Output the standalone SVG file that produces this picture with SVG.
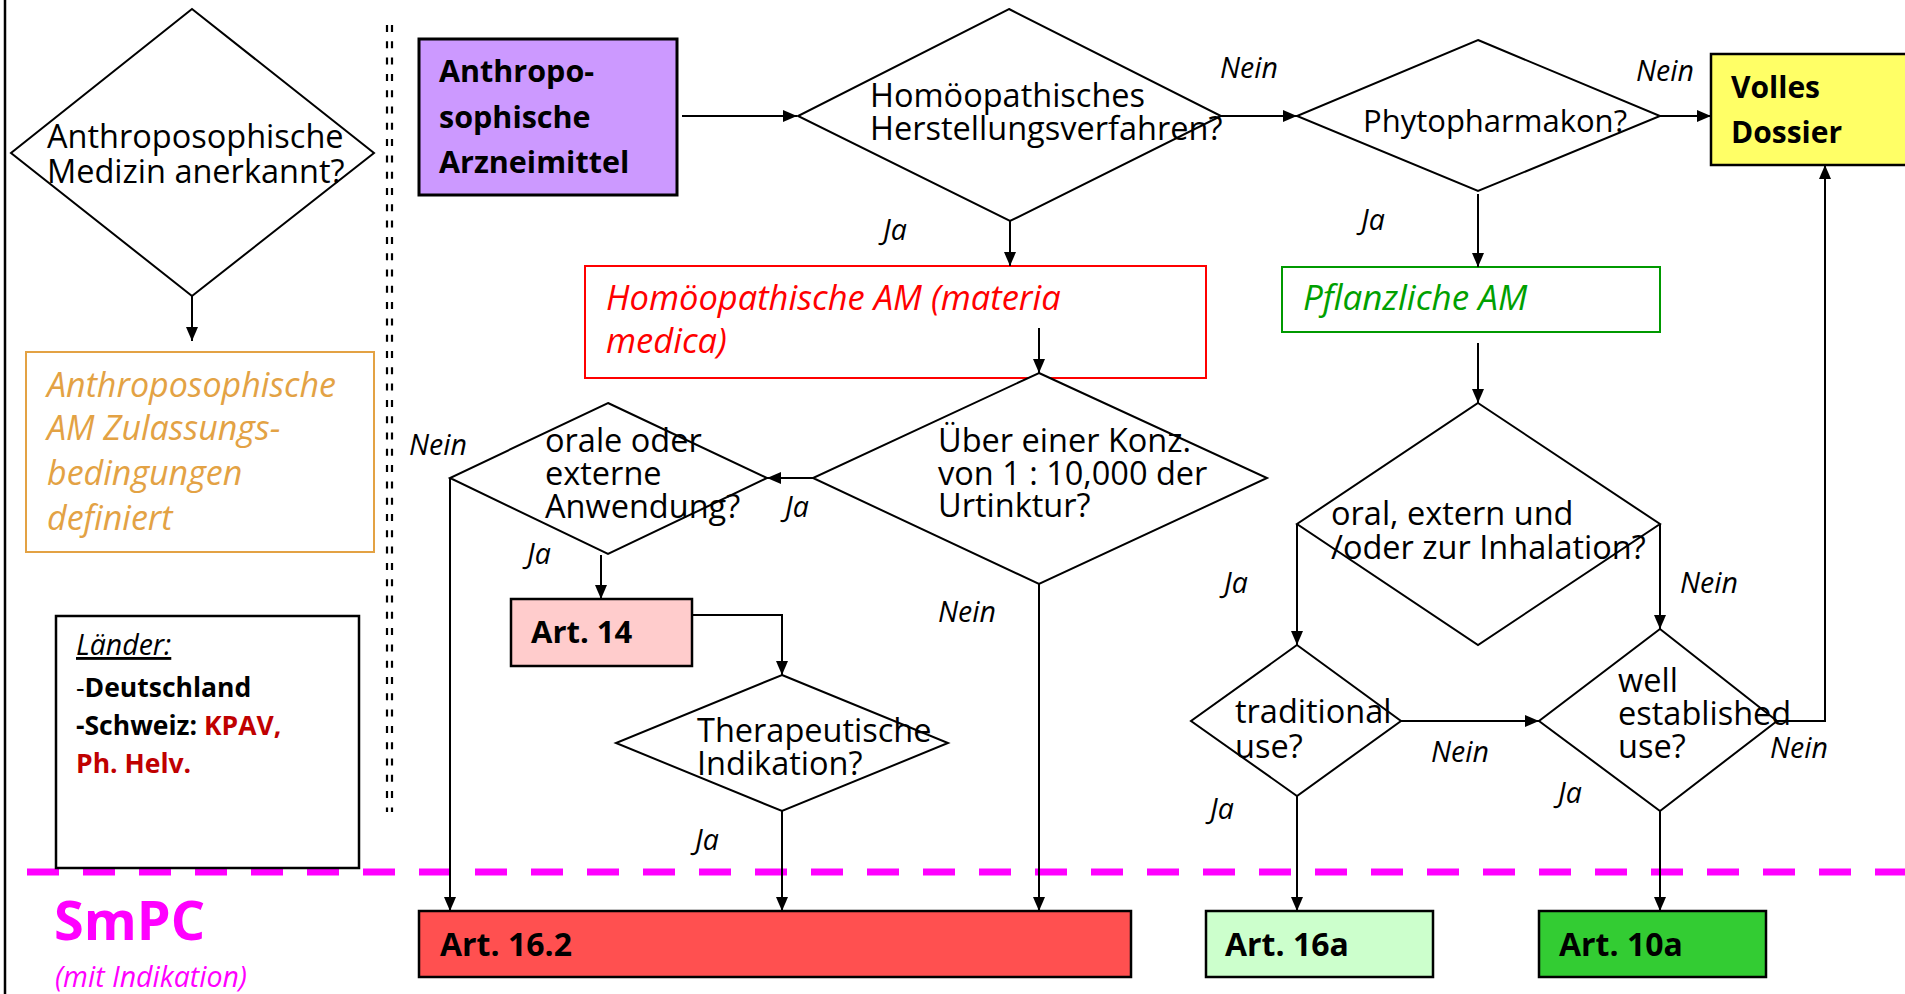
<svg xmlns="http://www.w3.org/2000/svg" width="1905" height="994" viewBox="0 0 1905 994">
<style>
text{font-family:"Open Sans","Noto Sans","DejaVu Sans",sans-serif;fill:#000}
.q{font-size:32.5px}
.lbl{font-size:28.5px;font-style:italic}
.dia{fill:#fff;stroke:#000;stroke-width:2}
.b{font-weight:bold}
.conn{fill:none;stroke:#000;stroke-width:2}
.or{font-size:34px;font-style:italic;fill:#E3A244}
</style>
<defs>
<marker id="ah" markerUnits="userSpaceOnUse" markerWidth="14" markerHeight="12" refX="14" refY="6" orient="auto">
<path d="M0,0 L14,6 L0,12 z" fill="#000"/>
</marker>
</defs>
<rect width="1905" height="994" fill="#fff"/>
<line x1="5" y1="0" x2="5" y2="994" stroke="#000" stroke-width="2.5"/>
<g id="separator">
<line x1="387" y1="25" x2="387" y2="812" stroke="#000" stroke-width="2.2" stroke-dasharray="7 9.3"/>
<line x1="392" y1="25" x2="392" y2="812" stroke="#000" stroke-width="2.2" stroke-dasharray="7 9.3"/>
</g>
<g id="smpc-line">
<line x1="27" y1="872" x2="1905" y2="872" stroke="#FF00FF" stroke-width="7" stroke-dasharray="32 24"/>
</g>

<g id="n-anerkannt">
<polygon class="dia" points="192,9 374,153 192,296 11,153"/>
<text class="q" x="47" y="148">Anthroposophische</text>
<text class="q" x="47" y="183">Medizin anerkannt?</text>
</g>
<g id="n-zulassung">
<rect x="26" y="352" width="348" height="200" fill="#fff" stroke="#E3A244" stroke-width="2"/>
<text class="or" x="47" y="397">Anthroposophische</text>
<text class="or" x="47" y="440">AM Zulassungs-</text>
<text class="or" x="47" y="485">bedingungen</text>
<text class="or" x="47" y="530">definiert</text>
</g>
<g id="n-laender">
<rect x="56" y="616" width="303" height="252" fill="#fff" stroke="#000" stroke-width="2.5"/>
<text x="76" y="655" font-size="28.5" font-style="italic" text-decoration="underline">Länder:</text>
<text x="76" y="697" font-size="26.5">-<tspan font-weight="bold">Deutschland</tspan></text>
<text x="76" y="735" font-size="26.5" font-weight="bold">-Schweiz: <tspan style="fill:#C00000">KPAV,</tspan></text>
<text x="76" y="773" font-size="26.5" font-weight="bold" style="fill:#C00000">Ph. Helv.</text>
</g>
<g id="n-smpc">
<text x="54" y="940" font-size="54" font-weight="bold" style="fill:#FF00FF">SmPC</text>
<text x="55" y="987" font-size="28.5" font-style="italic" style="fill:#FF00FF">(mit Indikation)</text>
</g>

<g id="n-anthro-am">
<rect x="419" y="39" width="258" height="156" fill="#CC99FF" stroke="#000" stroke-width="3"/>
<text class="b" x="439" y="82" font-size="30.5">Anthropo-</text>
<text class="b" x="439" y="128" font-size="30.5">sophische</text>
<text class="b" x="439" y="173" font-size="30.5">Arzneimittel</text>
</g>
<g id="n-homoeo-verfahren">
<polygon class="dia" points="1009,9 1221,116 1010,221 798,116"/>
<text class="q" x="870" y="107">Homöopathisches</text>
<text class="q" x="870" y="140">Herstellungsverfahren?</text>
</g>
<g id="n-phyto">
<polygon class="dia" points="1478,40 1660,116 1478,191 1297,116"/>
<text x="1363" y="132" font-size="31">Phytopharmakon?</text>
</g>
<g id="n-volles">
<rect x="1711" y="54" width="200" height="111" fill="#FFFF66" stroke="#000" stroke-width="2.5"/>
<text class="b" x="1731" y="98" font-size="30">Volles</text>
<text class="b" x="1731" y="143" font-size="30">Dossier</text>
</g>
<g id="n-homoeo-am">
<rect x="585" y="266" width="621" height="112" fill="#fff" stroke="#FF0000" stroke-width="2"/>
<text x="606" y="310" font-size="34.5" font-style="italic" style="fill:#FF0000">Homöopathische AM (materia</text>
<text x="606" y="353" font-size="34.5" font-style="italic" style="fill:#FF0000">medica)</text>
</g>
<g id="n-pflanz-am">
<rect x="1282" y="267" width="378" height="65" fill="#fff" stroke="#009900" stroke-width="2"/>
<text x="1303" y="310" font-size="35" font-style="italic" style="fill:#00A000">Pflanzliche AM</text>
</g>
<g id="n-ueber">
<polygon class="dia" points="1039,373 1267,478 1039,584 813,478"/>
<text class="q" x="938" y="452">Über einer Konz.</text>
<text class="q" x="938" y="485">von 1 : 10,000 der</text>
<text class="q" x="938" y="517">Urtinktur?</text>
</g>
<g id="n-orale">
<polygon class="dia" points="608,403 767,478 608,554 450,478"/>
<text class="q" x="545" y="452">orale oder</text>
<text class="q" x="545" y="485">externe</text>
<text class="q" x="545" y="518">Anwendung?</text>
</g>
<g id="n-art14">
<rect x="511" y="599" width="181" height="67" fill="#FFCCCC" stroke="#000" stroke-width="2.5"/>
<text class="b" x="531" y="643" font-size="31">Art. 14</text>
</g>
<g id="n-thera">
<polygon class="dia" points="782,675 948,743 782,811 616,743"/>
<text class="q" x="697" y="742">Therapeutische</text>
<text class="q" x="697" y="775">Indikation?</text>
</g>
<g id="n-oral-inh">
<polygon class="dia" points="1478,403 1660,524 1478,645 1297,524"/>
<text class="q" x="1331" y="525">oral, extern und</text>
<text class="q" x="1331" y="559">/oder zur Inhalation?</text>
</g>
<g id="n-traditional">
<polygon class="dia" points="1297,645 1401,721 1297,796 1191,721"/>
<text class="q" x="1235" y="723">traditional</text>
<text class="q" x="1235" y="758">use?</text>
</g>
<g id="n-well">
<polygon class="dia" points="1660,629 1777,721 1660,811 1539,721"/>
<text class="q" x="1618" y="692">well</text>
<text class="q" x="1618" y="725">established</text>
<text class="q" x="1618" y="758">use?</text>
</g>
<g id="n-art162">
<rect x="419" y="911" width="712" height="66" fill="#FF5050" stroke="#000" stroke-width="2.5"/>
<text class="b" x="440" y="956" font-size="32">Art. 16.2</text>
</g>
<g id="n-art16a">
<rect x="1206" y="911" width="227" height="66" fill="#CCFFCC" stroke="#000" stroke-width="2.5"/>
<text class="b" x="1225" y="956" font-size="32">Art. 16a</text>
</g>
<g id="n-art10a">
<rect x="1539" y="911" width="227" height="66" fill="#33CC33" stroke="#000" stroke-width="2.5"/>
<text class="b" x="1559" y="956" font-size="32">Art. 10a</text>
</g>

<g id="connectors">
<path class="conn" d="M192,296 V341" marker-end="url(#ah)"/>
<path class="conn" d="M682,116 H797" marker-end="url(#ah)"/>
<path class="conn" d="M1221,116 H1297" marker-end="url(#ah)"/>
<path class="conn" d="M1660,116 H1711" marker-end="url(#ah)"/>
<path class="conn" d="M1010,221 V266" marker-end="url(#ah)"/>
<path class="conn" d="M1478,194 V267" marker-end="url(#ah)"/>
<path class="conn" d="M1039,328 V373" marker-end="url(#ah)"/>
<path class="conn" d="M1478,343 V403" marker-end="url(#ah)"/>
<path class="conn" d="M813,478 H767" marker-end="url(#ah)"/>
<path class="conn" d="M601,555 V599" marker-end="url(#ah)"/>
<path class="conn" d="M450,478 V911" marker-end="url(#ah)"/>
<path class="conn" d="M692,615 H782 V675" marker-end="url(#ah)"/>
<path class="conn" d="M782,811 V911" marker-end="url(#ah)"/>
<path class="conn" d="M1039,584 V911" marker-end="url(#ah)"/>
<path class="conn" d="M1297,524 V645" marker-end="url(#ah)"/>
<path class="conn" d="M1660,524 V629" marker-end="url(#ah)"/>
<path class="conn" d="M1401,721 H1539" marker-end="url(#ah)"/>
<path class="conn" d="M1777,721 H1825 V165" stroke-width="2.5" marker-end="url(#ah)"/>
<path class="conn" d="M1297,796 V911" marker-end="url(#ah)"/>
<path class="conn" d="M1660,811 V911" marker-end="url(#ah)"/>
<text class="lbl" x="1220" y="78">Nein</text>
<text class="lbl" x="1636" y="81">Nein</text>
<text class="lbl" x="883" y="240">Ja</text>
<text class="lbl" x="1361" y="230">Ja</text>
<text class="lbl" x="409" y="455">Nein</text>
<text class="lbl" x="785" y="517">Ja</text>
<text class="lbl" x="527" y="564">Ja</text>
<text class="lbl" x="938" y="622">Nein</text>
<text class="lbl" x="695" y="850">Ja</text>
<text class="lbl" x="1224" y="593">Ja</text>
<text class="lbl" x="1680" y="593">Nein</text>
<text class="lbl" x="1431" y="762">Nein</text>
<text class="lbl" x="1770" y="758">Nein</text>
<text class="lbl" x="1210" y="819">Ja</text>
<text class="lbl" x="1558" y="803">Ja</text>
</g>
</svg>
